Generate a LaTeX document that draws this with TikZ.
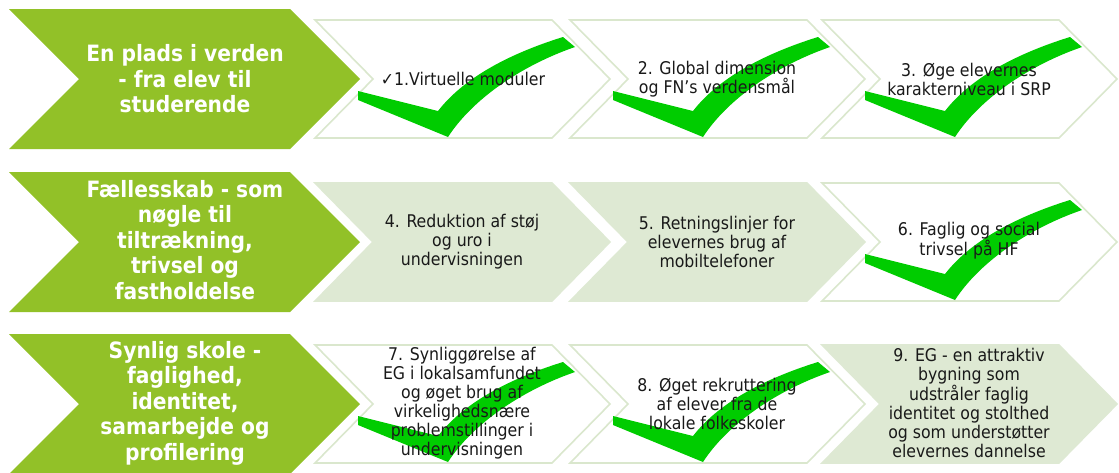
\documentclass[tikz,border=0pt]{standalone}
\usepackage{fontspec}
\setmainfont{DejaVu Sans Condensed}
\definecolor{hdr}{RGB}{146,193,40}
\definecolor{stepfill}{RGB}{222,233,211}
\definecolor{stepline}{RGB}{218,231,205}
\definecolor{chk}{RGB}{0,204,0}
\definecolor{txt}{RGB}{25,25,25}
\begin{document}
\begin{tikzpicture}[x=1pt,y=-1pt,
  whitestep/.style={fill=white,draw=stepline,line width=1.6pt},
  fillstep/.style={fill=stepfill,draw=stepfill,line width=1.6pt},
  hdrtext/.style={text=white,font=\fontsize{22.5}{25.5}\selectfont\bfseries,align=center,inner sep=0pt},
  steptext/.style={text=txt,font=\fontsize{17.5}{19}\selectfont,align=center,inner sep=0pt},
  greencheck/.pic={\fill[chk] (43,71) -- (123,91) .. controls (147,60) and (190,35) .. (248,17) -- (260,27) .. controls (205,46) and (157,80) .. (133,117) -- (43,80) -- cycle;}
]
\useasboundingbox (0,0) rectangle (1119,472);
\clip (0,0) rectangle (1119,472);
% header chevrons
\foreach \yt in {9,172,334}{
  \fill[hdr] (9,\yt) -- (290,\yt) -- (360,\yt+70) -- (290,\yt+140) -- (9,\yt+140) -- (79,\yt+70) -- cycle;
}
% step shapes
\foreach \xo/\yo/\st in {315/20/whitestep,570/20/whitestep,822/20/whitestep,
                         315/183/fillstep,570/183/fillstep,822/183/whitestep,
                         315/345/whitestep,570/345/whitestep,822/345/fillstep}{
  \path[\st] (\xo,\yo) -- ++(237,0) -- ++(58,59) -- ++(-58,59) -- ++(-237,0) -- ++(58,-59) -- cycle;
}
% checks
\foreach \xo/\yo in {315/20,570/20,822/20,822/183,315/345,570/345}{
  \pic at (\xo,\yo) {greencheck};
}
% header texts
\node[hdrtext] (h1) at (185,79) {En plads i verden\\- fra elev til\\studerende};
\node[hdrtext] (h2) at (185,240) {Fællesskab - som\\nøgle til\\tiltrækning,\\trivsel og\\fastholdelse};
\node[hdrtext] (h3) at (185,403) {Synlig skole -\\faglighed,\\identitet,\\samarbejde og\\profilering};
% step texts
\node[steptext] (s1) at (463,79) {✓1.Virtuelle moduler};
\node[steptext] (s2) at (717,79) {2. Global dimension\\og FN’s verdensmål};
\node[steptext] (s3) at (969,79) {3. Øge elevernes\\karakterniveau i SRP};
\node[steptext] (s4) at (462,242) {4. Reduktion af støj\\og uro i\\undervisningen};
\node[steptext] (s5) at (717,242) {5. Retningslinjer for\\elevernes brug af\\mobiltelefoner};
\node[steptext] (s6) at (969,241) {6. Faglig og social\\trivsel på HF};
\node[steptext] (s7) at (462,403) {7. Synliggørelse af\\EG i lokalsamfundet\\og øget brug af\\virkelighedsnære\\problemstillinger i\\undervisningen};
\node[steptext] (s8) at (717,404) {8. Øget rekruttering\\af elever fra de\\lokale folkeskoler};
\node[steptext] (s9) at (969,403) {9. EG - en attraktiv\\bygning som\\udstråler faglig\\identitet og stolthed\\og som understøtter\\elevernes dannelse};
\end{tikzpicture}
\end{document}
